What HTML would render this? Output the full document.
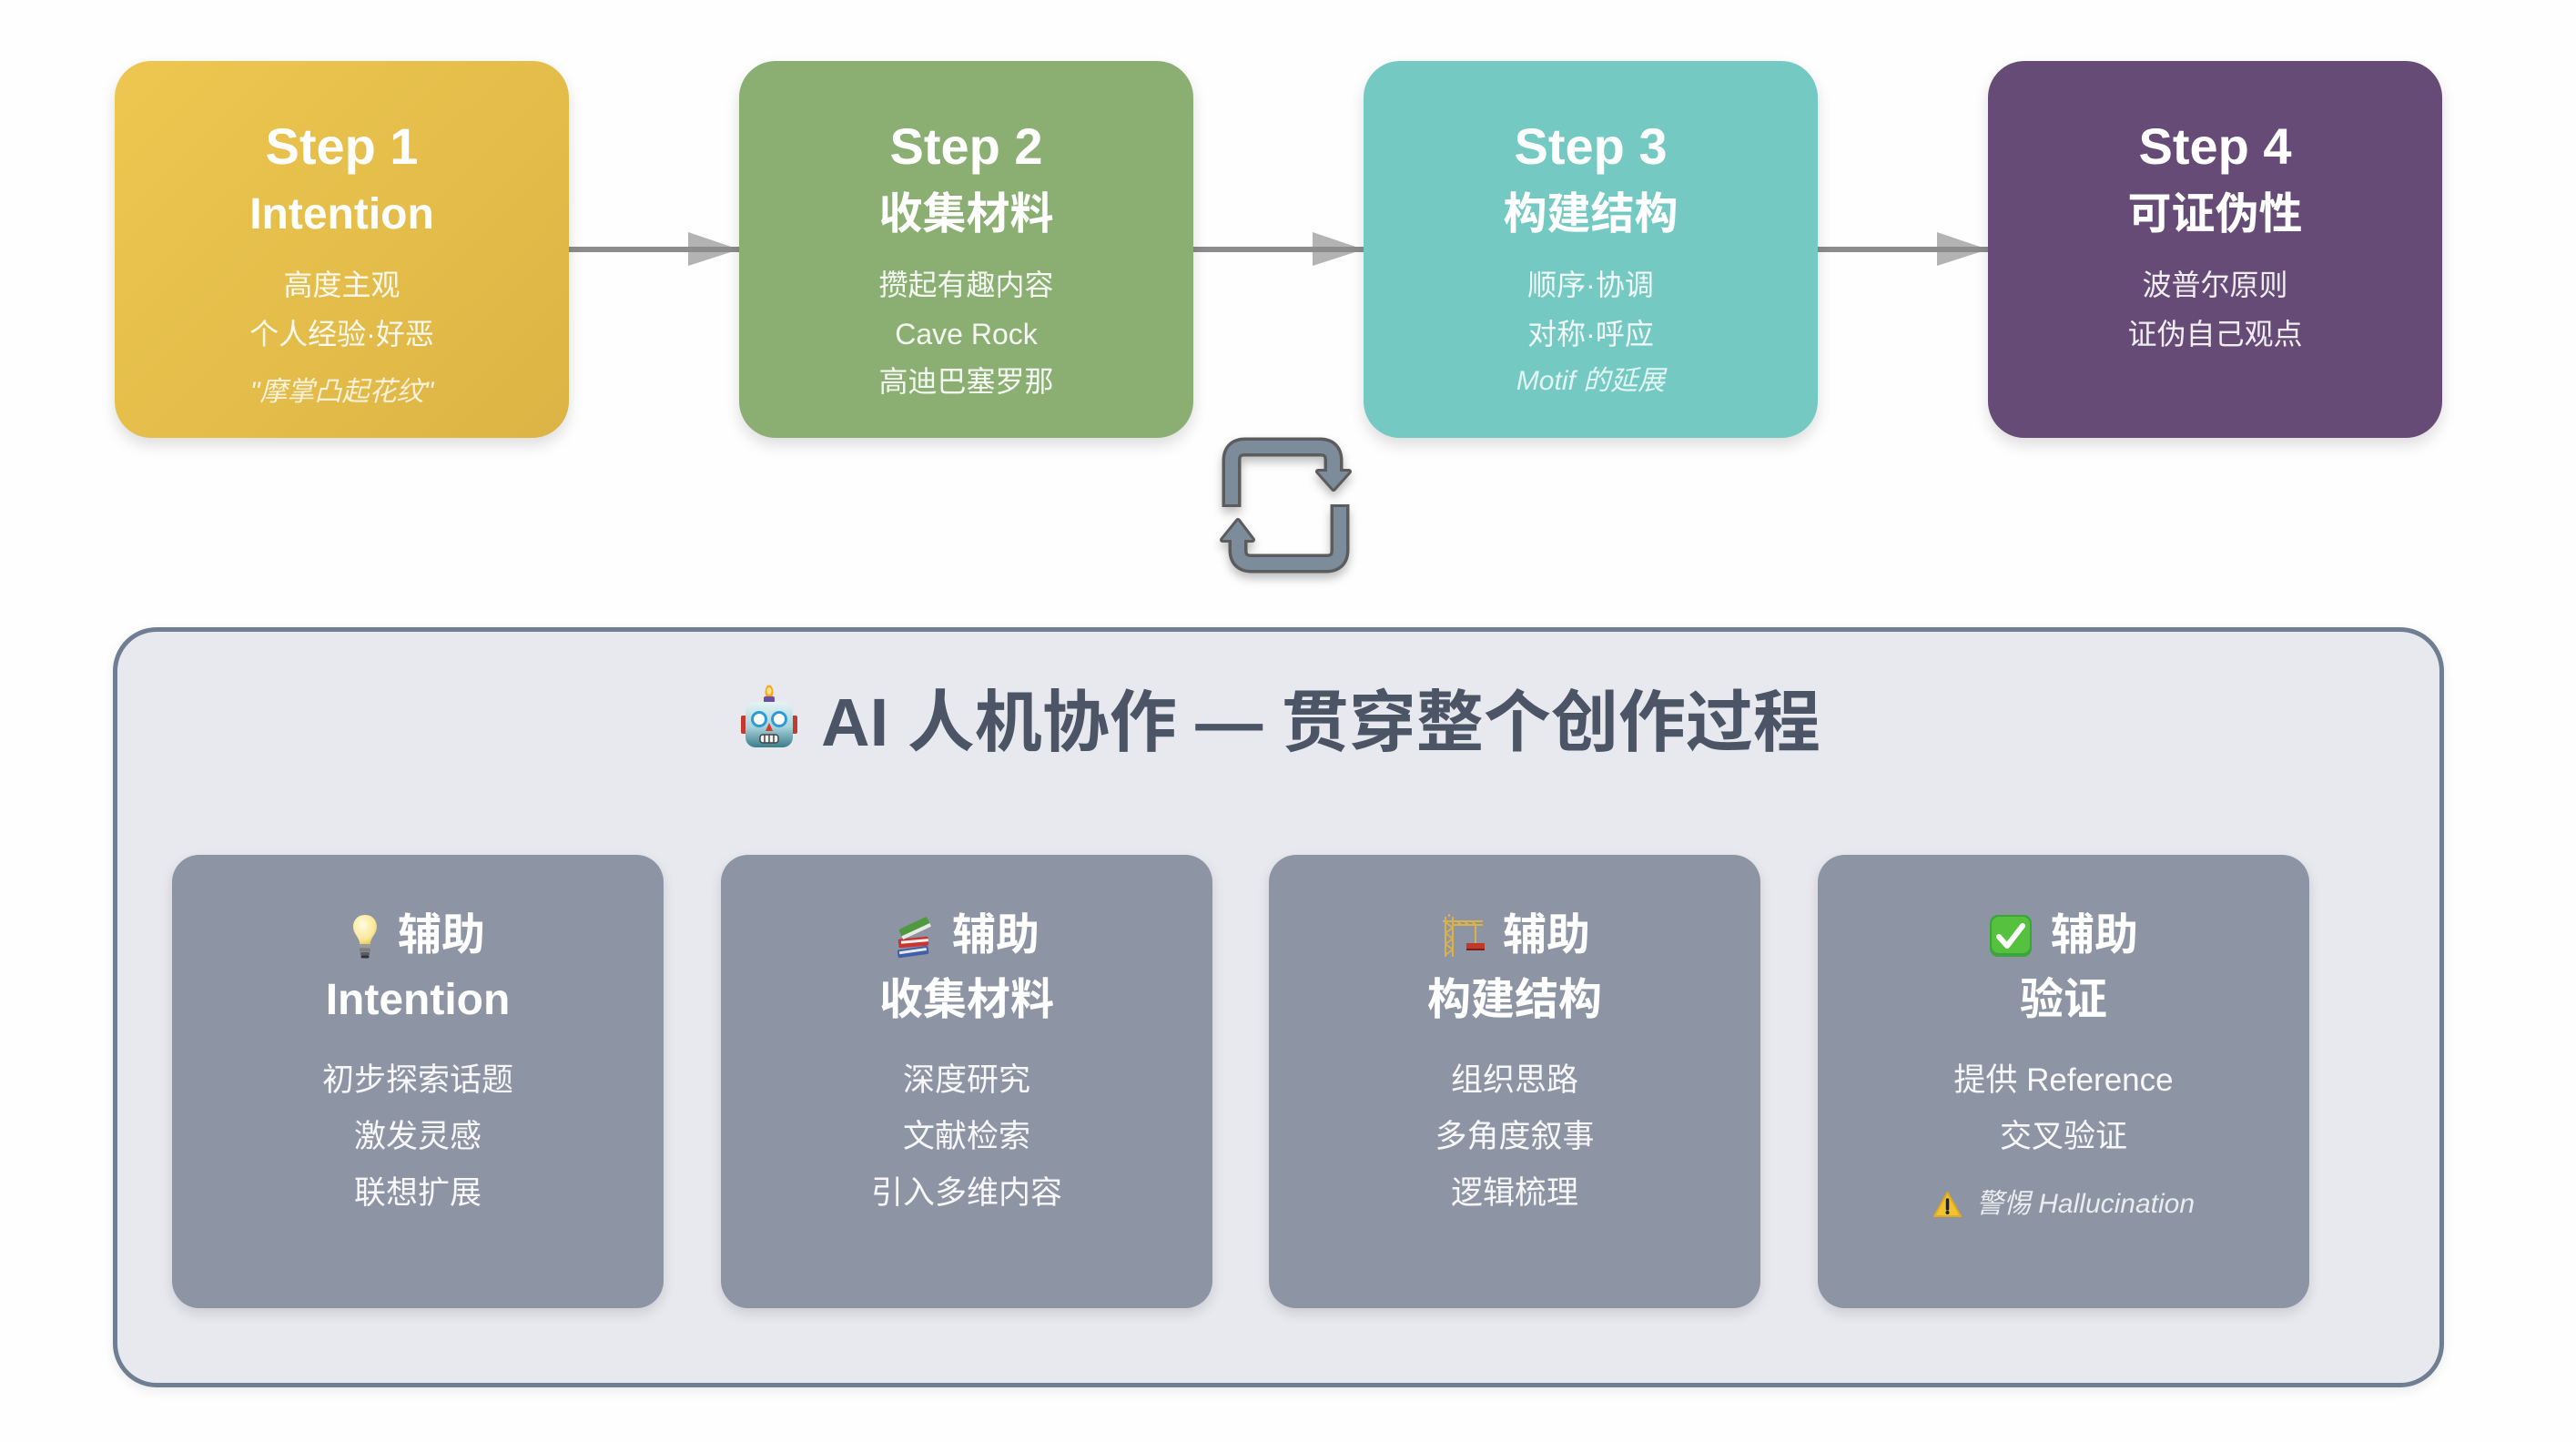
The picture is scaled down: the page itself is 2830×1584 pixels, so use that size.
<!DOCTYPE html>
<html><head><meta charset="utf-8">
<style>
*{margin:0;padding:0;box-sizing:border-box}
html,body{width:2830px;height:1584px;background:#fefefe;overflow:hidden}
body{position:relative;font-family:"Liberation Sans","Noto Sans CJK SC",sans-serif}
.step{position:absolute;top:67px;width:499px;height:414px;border-radius:40px;box-shadow:0 8px 16px rgba(0,0,0,0.13);color:#fff}
.step>div,.card>div{position:absolute;left:0;width:100%;text-align:center;height:60px;line-height:60px;white-space:nowrap}
.a{top:64px;font-size:56px;font-weight:bold}
.b{top:139px;font-size:48px;font-weight:bold}
.c{font-size:32px;color:rgba(255,255,255,0.9)}
.c1{top:216px}.c2{top:270px}.c3{top:322px}.c3q{top:334px}
.it{font-style:italic;font-size:30px;color:rgba(255,255,255,0.8)}
.s1{left:126px;background:linear-gradient(135deg,#edc750,#dcb445)}
.s2{left:812px;background:#8baf72}
.s3{left:1498px;background:#74cac2}
.s4{left:2184px;background:#664b76}
.box{position:absolute;left:124px;top:689px;width:2561px;height:835px;border:5px solid #6f7e92;border-radius:48px;background:#e8e9ee;box-shadow:0 4px 12px rgba(0,0,0,0.08)}
.title{position:absolute;left:124px;width:2564px;top:747px;height:80px;display:flex;justify-content:center;align-items:center;font-size:74px;font-weight:bold;color:#4b5566;white-space:nowrap}
.title svg{margin-right:24px}
.card{position:absolute;top:939px;width:540px;height:498px;border-radius:30px;background:#8d94a4;box-shadow:0 6px 14px rgba(0,0,0,0.12);color:#fff}
.card .h{top:59px;font-size:48px;font-weight:bold;display:flex;justify-content:center;align-items:center}
.card .h svg{margin-right:20px}
.card .h2{top:130px;font-size:48px;font-weight:bold}
.card .l{font-size:35px;color:rgba(255,255,255,0.93)}
.l1{top:218px}.l2{top:280px}.l3{top:342px}
.card .hal{top:354px;font-size:30px;font-style:italic;color:rgba(255,255,255,0.82);display:flex;justify-content:center;align-items:center}
.hal svg{margin-right:15px}
</style></head>
<body>

<svg width="2830" height="1584" style="position:absolute;left:0;top:0">
  <defs>
    <filter id="sh" x="-30%" y="-30%" width="160%" height="170%">
      <feDropShadow dx="0" dy="6" stdDeviation="5" flood-color="#000" flood-opacity="0.25"/>
    </filter>
  </defs>
  <!-- arrows -->
  <g>
    <polygon points="756,255 812,274 756,292" fill="#b3b3b3"/>
    <rect x="625" y="271" width="187" height="6" fill="#8c8c8c"/>
    <polygon points="1442,255 1498,274 1442,292" fill="#b3b3b3"/>
    <rect x="1311" y="271" width="187" height="6" fill="#8c8c8c"/>
    <polygon points="2128,255 2184,274 2128,292" fill="#b3b3b3"/>
    <rect x="1997" y="271" width="187" height="6" fill="#8c8c8c"/>
  </g>
  <!-- cycle icon -->
  <g filter="url(#sh)">
    <g fill="none" stroke="#5c5c5c" stroke-width="21" stroke-linejoin="round">
      <path d="M1353,557 L1353,506 Q1353,491 1368,491 L1450,491 Q1465,491 1465,506 L1465,520"/>
      <path d="M1472,554 L1472,604 Q1472,619 1457,619 L1375,619 Q1360,619 1360,604 L1360,591"/>
    </g>
    <polygon points="1448,518 1482,518 1465,537" fill="#5c5c5c" stroke="#5c5c5c" stroke-width="6" stroke-linejoin="round"/>
    <polygon points="1343,593 1376,593 1360,572" fill="#5c5c5c" stroke="#5c5c5c" stroke-width="6" stroke-linejoin="round"/>
    <g fill="none" stroke="#7b8c9b" stroke-width="14" stroke-linejoin="round">
      <path d="M1353,554 L1353,506 Q1353,491 1368,491 L1450,491 Q1465,491 1465,506 L1465,521"/>
      <path d="M1472,557 L1472,604 Q1472,619 1457,619 L1375,619 Q1360,619 1360,604 L1360,590"/>
    </g>
    <polygon points="1448,518 1482,518 1465,537" fill="#7b8c9b"/>
    <polygon points="1343,593 1376,593 1360,572" fill="#7b8c9b"/>
  </g>
</svg>

<div class="step s1">
  <div class="a">Step 1</div>
  <div class="b">Intention</div>
  <div class="c c1">高度主观</div>
  <div class="c c2">个人经验·好恶</div>
  <div class="it c3q">"摩掌凸起花纹"</div>
</div>
<div class="step s2">
  <div class="a">Step 2</div>
  <div class="b">收集材料</div>
  <div class="c c1">攒起有趣内容</div>
  <div class="c c2">Cave Rock</div>
  <div class="c c3">高迪巴塞罗那</div>
</div>
<div class="step s3">
  <div class="a">Step 3</div>
  <div class="b">构建结构</div>
  <div class="c c1">顺序·协调</div>
  <div class="c c2">对称·呼应</div>
  <div class="it c3">Motif 的延展</div>
</div>
<div class="step s4">
  <div class="a">Step 4</div>
  <div class="b">可证伪性</div>
  <div class="c c1">波普尔原则</div>
  <div class="c c2">证伪自己观点</div>
</div>

<div class="box"></div>

<div class="title">
<svg width="66" height="70" viewBox="0 0 66 70">
<defs><linearGradient id="rh" x1="0" y1="0" x2="0" y2="1"><stop offset="0" stop-color="#e4f4f6"/><stop offset="0.55" stop-color="#a9d3da"/><stop offset="1" stop-color="#3b7c8c"/></linearGradient></defs>
<ellipse cx="33" cy="8" rx="4.5" ry="7.5" fill="#f6a821"/>
<ellipse cx="33" cy="7" rx="2.5" ry="4" fill="#ffe38a"/>
<rect x="27" y="13" width="12" height="7" rx="2" fill="#6b4fa0"/>
<rect x="2" y="34" width="7" height="20" rx="2" fill="#c23b2e"/>
<rect x="57" y="34" width="7" height="20" rx="2" fill="#c23b2e"/>
<rect x="7" y="19" width="52" height="50" rx="11" fill="url(#rh)"/>
<circle cx="22" cy="38" r="7.5" fill="#fff" stroke="#2f9bd6" stroke-width="3"/>
<circle cx="44" cy="38" r="7.5" fill="#fff" stroke="#2f9bd6" stroke-width="3"/>
<polygon points="33,42 29,51 37,51" fill="#d9382c"/>
<rect x="23" y="55" width="20" height="9" rx="3" fill="#f4f4f4" stroke="#444" stroke-width="1.5"/>
<path d="M28 55v9M33 55v9M38 55v9" stroke="#444" stroke-width="1.5"/>
</svg><span>AI 人机协作 — 贯穿整个创作过程</span>
</div>

<div class="card" style="left:189px">
  <div class="h"><svg width="32" height="50" viewBox="0 0 32 50">
<defs><radialGradient id="bg1" cx="0.4" cy="0.35" r="0.7"><stop offset="0" stop-color="#fffbe0"/><stop offset="0.7" stop-color="#fbe89a"/><stop offset="1" stop-color="#e9c95a"/></radialGradient></defs>
<path d="M16 2C7.5 2 3 8.5 3 15c0 6 4 9.5 6 14 1 2.2 1.2 4 1.2 5h11.6c0-1 .2-2.8 1.2-5 2-4.5 6-8 6-14C29 8.5 24.5 2 16 2z" fill="url(#bg1)"/>
<rect x="10" y="34" width="12" height="4" rx="1.5" fill="#9a9a9a"/>
<rect x="10" y="38.5" width="12" height="4" rx="1.5" fill="#7d7d7d"/>
<rect x="11" y="43" width="10" height="3.5" rx="1.5" fill="#5e5e5e"/>
<path d="M13 48h6" stroke="#333" stroke-width="3" stroke-linecap="round"/>
</svg><span>辅助</span></div>
  <div class="h2">Intention</div>
  <div class="l l1">初步探索话题</div>
  <div class="l l2">激发灵感</div>
  <div class="l l3">联想扩展</div>
</div>

<div class="card" style="left:792px">
  <div class="h"><svg width="44" height="50" viewBox="0 0 44 50">
<g transform="rotate(-8 22 42)"><rect x="4" y="38" width="34" height="9" rx="2" fill="#3f5fa8"/><rect x="6" y="40" width="30" height="3" fill="#e8e8e8"/></g>
<g transform="rotate(-5 22 32)"><rect x="5" y="27" width="33" height="10" rx="2" fill="#c9362f"/><rect x="8" y="29.5" width="30" height="3" fill="#f0f0f0"/></g>
<g transform="rotate(-25 24 16)"><rect x="6" y="10" width="34" height="12" rx="2" fill="#4f9a3f"/><rect x="6" y="18" width="34" height="4" fill="#e9e9e9"/></g>
</svg><span>辅助</span></div>
  <div class="h2">收集材料</div>
  <div class="l l1">深度研究</div>
  <div class="l l2">文献检索</div>
  <div class="l l3">引入多维内容</div>
</div>

<div class="card" style="left:1394px">
  <div class="h"><svg width="50" height="50" viewBox="0 0 50 50">
<g stroke="#d9b24a" stroke-width="2" fill="none">
<path d="M7 48V4M15 48V4M7 10l8 6M15 16l-8 6M7 22l8 6M15 28l-8 6M7 34l8 6M15 40l-8 6"/>
<path d="M4 9h44M15 13h33M20 9l4 4M28 9l4 4M36 9l4 4"/>
<path d="M11 4V1"/>
<path d="M40 13v20"/>
</g>
<rect x="30" y="33" width="20" height="6" fill="#c0392b"/>
<rect x="30" y="39" width="20" height="2" fill="#7a2018"/>
</svg><span>辅助</span></div>
  <div class="h2">构建结构</div>
  <div class="l l1">组织思路</div>
  <div class="l l2">多角度叙事</div>
  <div class="l l3">逻辑梳理</div>
</div>

<div class="card" style="left:1997px">
  <div class="h"><svg width="48" height="48" viewBox="0 0 48 48"><rect x="1" y="1" width="46" height="46" rx="9" fill="#3aa53a"/><rect x="3" y="3" width="42" height="40" rx="8" fill="#56c13f"/><path d="M11 25l9 10 17-22" stroke="#fff" stroke-width="6" fill="none" stroke-linecap="round" stroke-linejoin="round"/></svg><span>辅助</span></div>
  <div class="h2">验证</div>
  <div class="l l1">提供 Reference</div>
  <div class="l l2">交叉验证</div>
  <div class="hal"><svg width="33" height="30" viewBox="0 0 33 30"><path d="M16.5 2L31 28H2z" fill="#f1c232" stroke="#e0ac1c" stroke-width="2" stroke-linejoin="round"/><path d="M16.5 10v10" stroke="#222" stroke-width="3.5" stroke-linecap="round"/><circle cx="16.5" cy="24" r="2" fill="#222"/></svg><span>警惕 Hallucination</span></div>
</div>

</body></html>
